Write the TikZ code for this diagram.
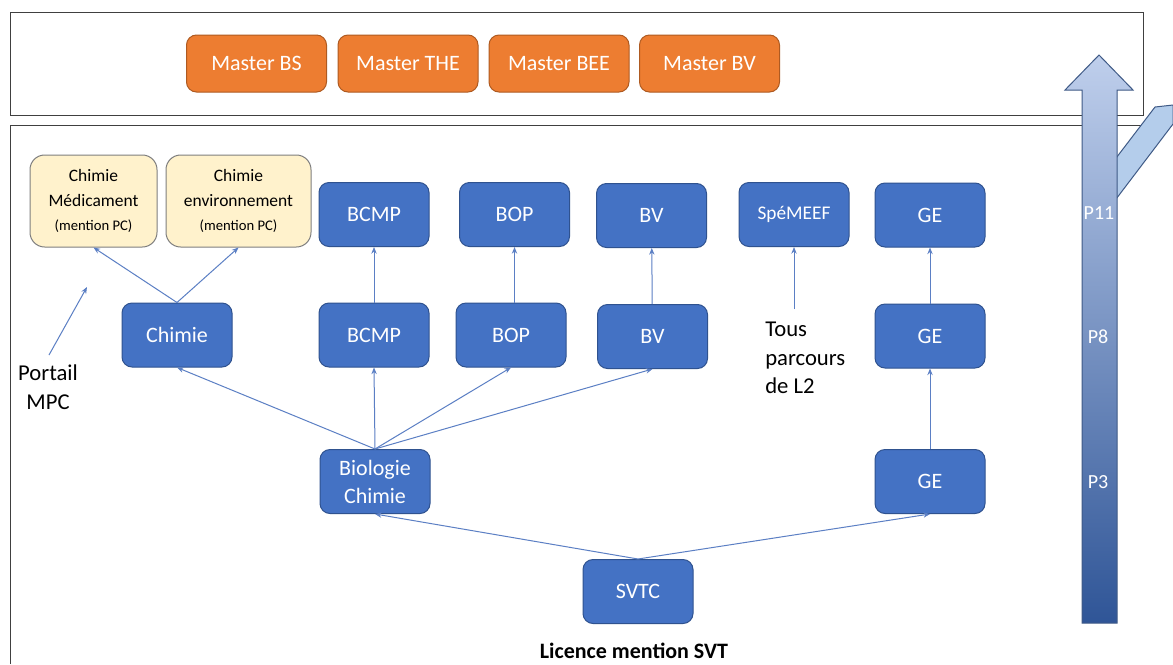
\documentclass[tikz,border=0pt]{standalone}
\usepackage{fontspec}
\setmainfont{Carlito}
\usetikzlibrary{arrows.meta}
\definecolor{boxblue}{HTML}{4472C4}
\definecolor{boxedge}{HTML}{2F528F}
\definecolor{orangefill}{HTML}{ED7D31}
\definecolor{orangeedge}{HTML}{AE5A21}
\definecolor{cream}{HTML}{FFF2CC}
\definecolor{creamedge}{HTML}{7F7F7F}
\definecolor{linkblue}{HTML}{5B7FC4}
\definecolor{arrowtop}{HTML}{BFCFEC}
\definecolor{arrowbot}{HTML}{2F5597}
\definecolor{arrowedge}{HTML}{3F5A86}
\definecolor{slantfill}{HTML}{B4CDEB}
\definecolor{framecol}{HTML}{404040}
\begin{document}
\begin{tikzpicture}[x=0.75pt,y=-0.75pt,
  bluebox/.style={draw=boxedge,fill=boxblue,rounded corners=7.5pt,line width=0.75pt,text=white,
    font=\fontsize{16.5}{21}\selectfont,minimum width=82.5pt,minimum height=48pt,inner sep=0pt,align=center},
  masterbox/.style={draw=orangeedge,fill=orangefill,rounded corners=7.5pt,line width=0.75pt,text=white,
    font=\fontsize{16.5}{20}\selectfont,minimum width=105pt,minimum height=42.75pt,inner sep=0pt},
  creambox/.style={draw=creamedge,fill=cream,rounded corners=11pt,line width=0.75pt,text=black,
    font=\fontsize{13.1}{18.5}\selectfont,minimum height=69pt,inner sep=0pt,align=center},
  link/.style={draw=linkblue,line width=0.75pt,-{Stealth[length=5pt,width=4pt]}},
  plabel/.style={text=white,font=\fontsize{15}{18}\selectfont},
  plain/.style={font=\fontsize{17}{21.5}\selectfont,inner sep=0pt}
]
\useasboundingbox (0,0) rectangle (1173,664);
\fill[white] (0,0) rectangle (1173,664);

% frames
\draw[framecol,line width=0.75pt] (10,12) rectangle (1143,115);
\draw[framecol,line width=0.75pt] (10,664) -- (10,125) -- (1141,125);

% masters
\node[masterbox] (mbs) at (256.5,63.5) {Master BS};
\node[masterbox] (mthe) at (408,63.5) {Master THE};
\node[masterbox] (mbee) at (559,63.5) {Master BEE};
\node[masterbox] (mbv) at (709.5,63.5) {Master BV};

% cream boxes
\node[creambox,minimum width=95.25pt] (chmed) at (93.5,201) {Chimie\\Médicament\\{\fontsize{11}{13}\selectfont (mention PC)}};
\node[creambox,minimum width=108.75pt] (chenv) at (238.5,201) {Chimie\\environnement\\{\fontsize{11}{13}\selectfont (mention PC)}};

% top row
\node[bluebox] (bcmpT) at (374,214.5) {BCMP};
\node[bluebox] (bopT) at (514.5,214.5) {BOP};
\node[bluebox] (bvT) at (651.5,215.5) {BV};
\node[bluebox,font=\fontsize{14.5}{17}\selectfont] (meef) at (794,214.5) {SpéMEEF};
\node[bluebox] (geT) at (930,215) {GE};

% middle row
\node[bluebox] (chim) at (177,335) {Chimie};
\node[bluebox] (bcmpM) at (374,335) {BCMP};
\node[bluebox] (bopM) at (511,335) {BOP};
\node[bluebox] (bvM) at (652.5,336.5) {BV};
\node[bluebox] (geM) at (930,336) {GE};

% lower rows
\node[bluebox] (bio) at (375,481.5) {Biologie\\Chimie};
\node[bluebox] (geB) at (930,481.5) {GE};
\node[bluebox] (svtc) at (638,591.5) {SVTC};

% texts
\node[plain,align=left,anchor=west] (tous) at (765,358) {Tous\\parcours\\de L2};
\node[plain,align=center] (mpc) at (48,387) {Portail\\MPC};
\node[font=\bfseries\fontsize{16.5}{20}\selectfont] (lic) at (634,651) {Licence mention SVT};

\coordinate (tousTop) at (794,309);
\coordinate (mpcStart) at (49,355);
\coordinate (mpcEnd) at (87,287);

% connectors
\draw[link] (chim.north) -- (chmed.south);
\draw[link] (chim.north) -- (chenv.south);
\draw[link] (bcmpM) -- (bcmpT);
\draw[link] (bopM.north -| bopT.south) -- (bopT.south);
\draw[link] (bvM) -- (bvT);
\draw[link] (geM) -- (geT);
\draw[link] (geB) -- (geM);
\draw[link] (bio.north) -- (chim.south);
\draw[link] (bio.north) -- (bcmpM.south);
\draw[link] (bio.north) -- (bopM.south);
\draw[link] (bio.north) -- (bvM.south);
\draw[link] (svtc.north) -- (bio.south);
\draw[link] (svtc.north) -- (geB.south);
\draw[link] (tousTop) -- (meef.south);
\draw[link] (mpcStart) -- (mpcEnd);

% slanted partial shape
\draw[fill=slantfill,draw=arrowedge,line width=0.75pt] (1110,166) -- (1155,107) -- (1173,105) -- (1173,124) -- (1110,207) -- cycle;

% big arrow
\shade[top color=arrowtop,bottom color=arrowbot,draw=arrowedge,line width=0.75pt]
  (1082,623) -- (1082,90) -- (1065,90) -- (1099,55) -- (1133,90) -- (1117,90) -- (1117,623) -- cycle;
\node[plabel] (p11) at (1099,213) {P11};
\node[plabel] (p8) at (1098,337) {P8};
\node[plabel] (p3) at (1098,482) {P3};
\end{tikzpicture}
\end{document}
